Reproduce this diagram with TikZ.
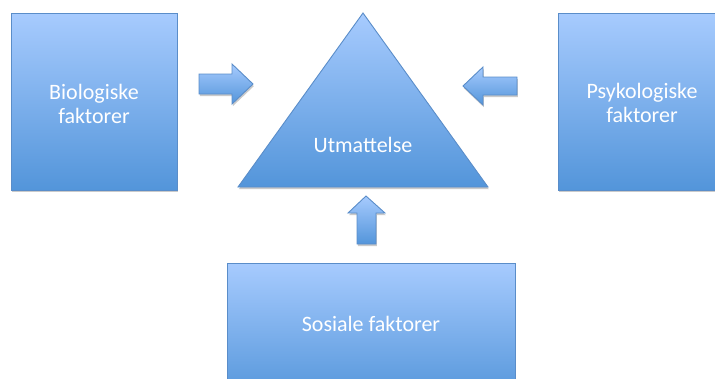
\documentclass[tikz,border=0pt]{standalone}
\usepackage{fontspec}
\setmainfont{Carlito}
\usetikzlibrary{shadows}
\definecolor{boxtop}{HTML}{A7CBFE}
\definecolor{boxbot}{HTML}{5395DA}
\definecolor{boxedge}{HTML}{5A8DC9}
\tikzset{
  blockfill/.style={draw=boxedge, line width=0.9pt, top color=boxtop, bottom color=boxbot,
    drop shadow={shadow xshift=0.8pt, shadow yshift=-2.2pt, opacity=0.35, fill=black!60}},
  label/.style={text=white, font=\fontsize{22}{24}\selectfont, align=center},
}
\begin{document}
\begin{tikzpicture}[x=1pt, y=-1pt]
  \useasboundingbox (0,0) rectangle (715,378);
  \clip (0,0) rectangle (715,378);

  % factor boxes
  \path[blockfill] (11,13) rectangle (177,190);
  \path[blockfill] (558,13) rectangle (740,190);
  \path[blockfill] (227,263) rectangle (515,400);

  % central triangle
  \path[blockfill] (238,187) -- (363,13) -- (488,187) -- cycle;

  % block arrows pointing at the triangle
  \path[blockfill] (199,74) -- (232,74) -- (232,64) -- (253,84) -- (232,104)
    -- (232,94) -- (199,94) -- cycle;
  \path[blockfill] (517,77) -- (483,77) -- (483,67) -- (463,86) -- (483,105)
    -- (483,95) -- (517,95) -- cycle;
  \path[blockfill] (357,244) -- (357,213) -- (348,213) -- (366,196) -- (385,213)
    -- (376,213) -- (376,244) -- cycle;

  % labels
  \node[label] (bio) at (94,104) {Biologiske\\faktorer};
  \node[label] (psy) at (642,103) {Psykologiske\\faktorer};
  \node[label] (utm) at (363,145) {Utmattelse};
  \node[label] (sos) at (371,324) {Sosiale faktorer};
\end{tikzpicture}
\end{document}
